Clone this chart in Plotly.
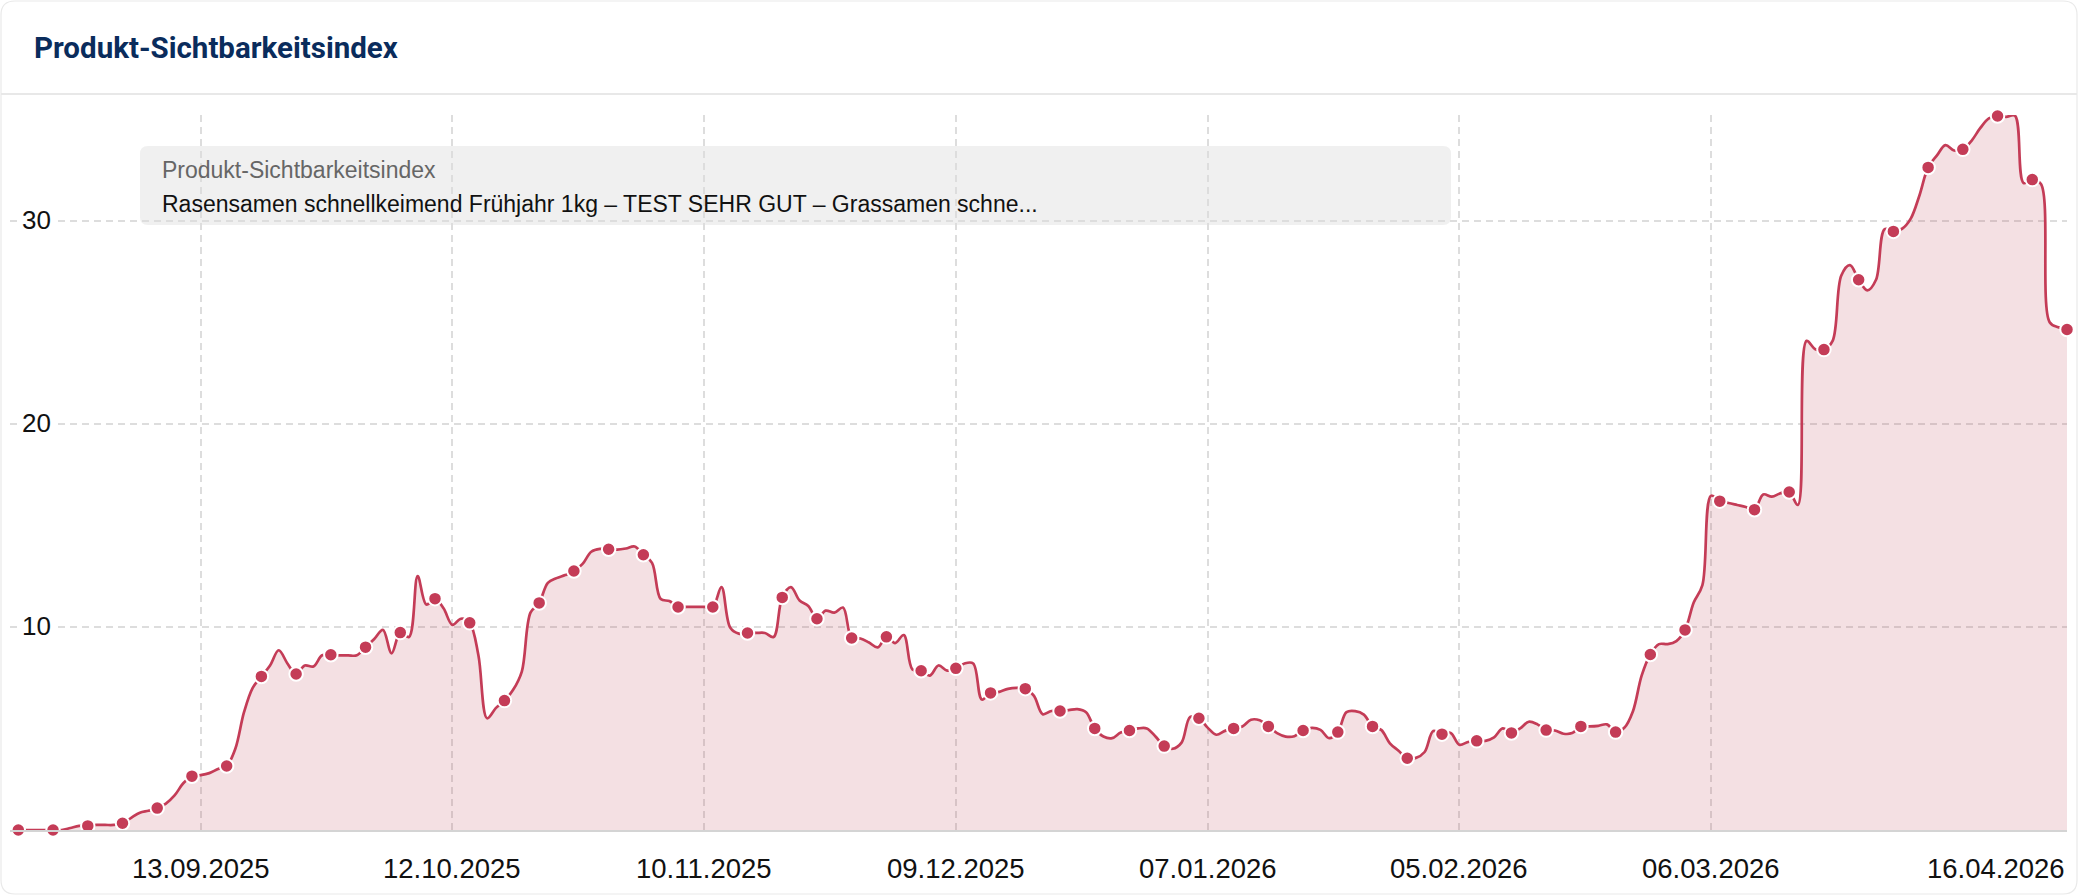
import plotly.graph_objects as go
import pandas as pd

# ---------------- data (daily values) ----------------
start_date = "2025-08-23"
aug_2025 = [0.0, 0.0, 0.0, 0.0, 0.0, 0.0, 0.1, 0.2, 0.2]
sep_2025 = [0.25, 0.25, 0.25, 0.33, 0.6, 0.85, 0.95, 1.08, 1.3, 1.7,
            2.3, 2.65, 2.7, 2.8, 3.0, 3.15, 4.0, 5.8, 7.0, 7.56,
            8.1, 8.85, 8.2, 7.68, 8.1, 8.05, 8.6, 8.63, 8.6, 8.6]
oct_2025 = [8.6, 9.0, 9.4, 9.85, 8.7, 9.72, 9.5, 12.5, 11.1, 11.39,
            10.9, 10.1, 10.4, 10.2, 8.6, 5.5, 6.0, 6.37, 6.9, 7.8,
            10.7, 11.18, 12.17, 12.4, 12.55, 12.75, 13.1, 13.7, 13.84, 13.82,
            13.8]
nov_2025 = [13.86, 13.96, 13.55, 13.15, 11.37, 11.27, 10.98, 10.98, 10.98, 10.98,
            10.98, 11.96, 9.97, 9.67, 9.7, 9.7, 9.7, 9.5, 11.45, 11.96,
            11.3, 11.03, 10.4, 10.8, 10.7, 10.95, 9.45, 9.43, 9.23, 8.99]
dec_2025 = [9.51, 9.2, 9.6, 7.9, 7.84, 7.6, 8.1, 7.85, 7.96, 8.2,
            8.2, 6.42, 6.75, 6.8, 6.95, 7.0, 6.96, 6.6, 5.7, 5.86,
            5.86, 5.9, 5.95, 5.8, 5.0, 4.6, 4.52, 4.8, 4.9, 5.0,
            5.0]
jan_2026 = [4.6, 4.13, 4.0, 4.3, 5.57, 5.5, 5.04, 4.69, 4.88, 5.0,
            5.1, 5.43, 5.4, 5.1, 4.77, 4.6, 4.62, 4.9, 5.03, 4.93,
            4.52, 4.82, 5.8, 5.85, 5.68, 5.1, 4.93, 4.27, 3.9, 3.53,
            3.55]
feb_2026 = [3.84, 4.87, 4.72, 4.78, 4.2, 4.33, 4.39, 4.39, 4.56, 5.0,
            4.78, 5.0, 5.33, 5.2, 4.92, 4.9, 4.74, 4.77, 5.1, 5.1,
            5.13, 5.2, 4.82, 5.03, 5.85, 7.6, 8.64, 9.15]
mar_2026 = [9.15, 9.3, 9.85, 11.2, 12.06, 16.46, 16.19, 16.1, 16.0, 15.9,
            15.77, 16.52, 16.41, 16.58, 16.64, 16.0, 24.08, 23.67, 23.65, 24.08,
            27.3, 27.81, 27.09, 26.57, 27.09, 29.58, 29.47, 29.6, 30.1, 31.24,
            32.62]
apr_2026 = [33.2, 33.72, 33.45, 33.51, 33.93, 34.55, 35.03, 35.15, 35.11, 35.17,
            31.85, 32.02, 31.8, 25.0, 24.75, 24.64]

values = aug_2025 + sep_2025 + oct_2025 + nov_2025 + dec_2025 + jan_2026 + feb_2026 + mar_2026 + apr_2026
dates = pd.date_range(start_date, periods=len(values), freq="D")
marker_step = 4

x_tick_dates = ["2025-09-13", "2025-10-12", "2025-11-10", "2025-12-09",
                "2026-01-07", "2026-02-05", "2026-03-06", "2026-04-16"]
x_tick_labels = ["13.09.2025", "12.10.2025", "10.11.2025", "09.12.2025",
                 "07.01.2026", "05.02.2026", "06.03.2026", "16.04.2026"]
y_ticks = [10, 20, 30]

title_text = "Produkt-Sichtbarkeitsindex"
box_title = "Produkt-Sichtbarkeitsindex"
box_text = "Rasensamen schnellkeimend Frühjahr 1kg – TEST SEHR GUT – Grassamen schne..."

# ---------------- layout geometry ----------------
W, H = 2078, 896
ML, MR, MT, MB = 10, 11, 115, 66
PW = W - ML - MR
PH = H - MT - MB

def px(xpix):
    return (xpix - ML) / PW

def py(ypix):
    return (H - MB - ypix) / PH

def rounded_rect(x0, y0, x1, y1, r):
    pts = []
    pts.append(f"M {px(x0 + r)},{py(y0)}")
    pts.append(f"L {px(x1 - r)},{py(y0)}")
    pts.append(f"Q {px(x1)},{py(y0)} {px(x1)},{py(y0 + r)}")
    pts.append(f"L {px(x1)},{py(y1 - r)}")
    pts.append(f"Q {px(x1)},{py(y1)} {px(x1 - r)},{py(y1)}")
    pts.append(f"L {px(x0 + r)},{py(y1)}")
    pts.append(f"Q {px(x0)},{py(y1)} {px(x0)},{py(y1 - r)}")
    pts.append(f"L {px(x0)},{py(y0 + r)}")
    pts.append(f"Q {px(x0)},{py(y0)} {px(x0 + r)},{py(y0)}")
    pts.append("Z")
    return " ".join(pts)

LINE_COLOR = "#c43c57"
FONT = "Liberation Sans, Arial, sans-serif"

fig = go.Figure()

fig.add_trace(go.Scatter(
    x=dates, y=values, mode="lines",
    line=dict(color=LINE_COLOR, width=2.7, shape="spline", smoothing=1.0),
    fill="tozeroy", fillcolor="rgba(190,70,90,0.17)",
    hoverinfo="x+y", showlegend=False,
))
fig.add_trace(go.Scatter(
    x=dates[::marker_step], y=values[::marker_step], mode="markers",
    marker=dict(color=LINE_COLOR, size=13.5, line=dict(color="white", width=2)),
    cliponaxis=False, hoverinfo="x+y", showlegend=False,
))

shapes = [
    dict(type="path", xref="paper", yref="paper", path=rounded_rect(1, 1, 2077, 894, 14),
         line=dict(color="#e9e9e9", width=1.2), fillcolor="rgba(0,0,0,0)", layer="below"),
    dict(type="line", xref="paper", yref="paper", x0=px(1), x1=px(2077), y0=py(94), y1=py(94),
         line=dict(color="#e8e8e8", width=2), layer="below"),
    dict(type="path", xref="paper", yref="paper", path=rounded_rect(140, 146, 1451, 225, 8),
         line=dict(width=0), fillcolor="#f0f0f0", layer="below"),
]

annotations = [
    dict(text=f"<b>{title_text}</b>", xref="paper", yref="paper", x=px(32), y=py(48),
         xanchor="left", yanchor="middle", showarrow=False,
         font=dict(family="Roboto, Liberation Sans, sans-serif", size=29.5, color="#0a2c5c")),
    dict(text=box_title, xref="paper", yref="paper", x=px(160), y=py(170),
         xanchor="left", yanchor="middle", showarrow=False,
         font=dict(family=FONT, size=23, color="#666666")),
    dict(text=box_text, xref="paper", yref="paper", x=px(160), y=py(204),
         xanchor="left", yanchor="middle", showarrow=False,
         font=dict(family=FONT, size=23, color="#111111")),
]
for v in y_ticks:
    annotations.append(dict(text=str(v), xref="paper", yref="y", x=px(17), y=v, yshift=1,
                            xanchor="left", yanchor="middle", showarrow=False,
                            bgcolor="white", borderpad=4,
                            font=dict(family=FONT, size=26, color="#111111")))
for i, (d, lab) in enumerate(zip(x_tick_dates, x_tick_labels)):
    last = i == len(x_tick_dates) - 1
    annotations.append(dict(text=lab, xref="x", yref="paper", x=d, y=py(868),
                            xanchor="right" if last else "center", yanchor="middle",
                            showarrow=False,
                            font=dict(family=FONT, size=27.5, color="#111111")))

fig.update_layout(
    width=W, height=H,
    margin=dict(l=ML, r=MR, t=MT, b=MB, pad=0),
    paper_bgcolor="white", plot_bgcolor="white",
    showlegend=False, hovermode="closest",
    shapes=shapes, annotations=annotations,
    xaxis=dict(
        type="date", range=["2025-08-22 01:00", "2026-04-16"],
        tickvals=x_tick_dates, showticklabels=False, ticks="",
        showgrid=True, gridcolor="#dddddd", gridwidth=1.5, griddash="7px,5px",
        showline=True, linecolor="#d4d4d4", linewidth=2, zeroline=False,
    ),
    yaxis=dict(
        range=[0, 35.2], tickvals=y_ticks, showticklabels=False, ticks="",
        showgrid=True, gridcolor="#dddddd", gridwidth=1.5, griddash="7px,5px",
        zeroline=False, showline=False,
    ),
)

fig.write_html("out.html", config={"displayModeBar": False},
               post_script="document.body.style.margin='0px';document.body.style.overflow='hidden';")
